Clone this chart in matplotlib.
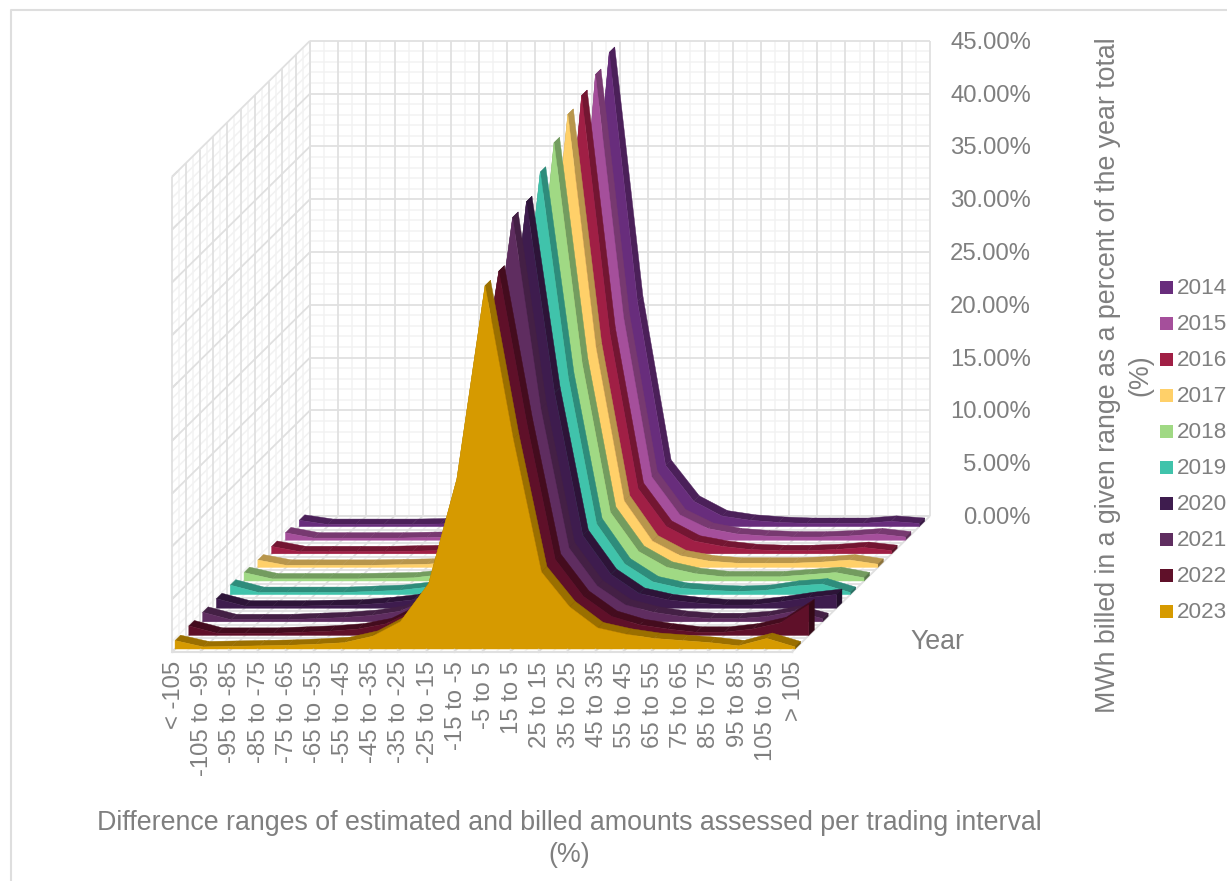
#!/usr/bin/env python

import matplotlib
matplotlib.use("Agg")
import matplotlib.pyplot as plt
from matplotlib.colors import to_rgb
from matplotlib.patches import Polygon, Rectangle

plt.rcParams["font.family"] = ["Liberation Sans", "DejaVu Sans"]

RANGES = [
    "< -105", "-105 to -95", "-95 to -85", "-85 to -75", "-75 to -65",
    "-65 to -55", "-55 to -45", "-45 to -35", "-35 to -25", "-25 to -15",
    "-15 to -5", "-5 to 5", "15 to 5", "25 to 15", "35 to 25", "45 to 35",
    "55 to 45", "65 to 55", "75 to 65", "85 to 75", "95 to 85", "105 to 95",
    "> 105",
]
YEARS = ["2014", "2015", "2016", "2017", "2018", "2019", "2020", "2021", "2022", "2023"]
COLORS = [
    "#682D7C", "#A54F9B", "#A01F45", "#FFD069", "#A0D984",
    "#40C3AB", "#3E1C4E", "#5F2D60", "#5F1029", "#D69A00",
]
PCT_TICKS = [0, 5, 10, 15, 20, 25, 30, 35, 40, 45]

V_2014 = [0.6, 0.2, 0.2, 0.2, 0.2, 0.25, 0.3, 0.5, 1.2, 5.0, 15.3, 44.9, 21.3, 5.8, 2.4, 1.0, 0.6, 0.4, 0.3, 0.3, 0.3, 0.5, 0.3]
V_2015 = [0.7, 0.2, 0.2, 0.2, 0.2, 0.25, 0.3, 0.5, 1.2, 4.0, 10.7, 44.1, 21.1, 6.0, 2.4, 1.1, 0.6, 0.4, 0.3, 0.3, 0.4, 0.6, 0.3]
V_2016 = [0.7, 0.2, 0.2, 0.2, 0.2, 0.25, 0.3, 0.5, 1.3, 4.5, 14.0, 43.4, 20.9, 6.2, 2.6, 1.2, 0.7, 0.4, 0.3, 0.3, 0.4, 0.6, 0.3]
V_2017 = [0.7, 0.2, 0.2, 0.2, 0.2, 0.25, 0.3, 0.5, 1.3, 4.8, 16.8, 42.9, 20.8, 6.3, 2.5, 1.1, 0.6, 0.4, 0.4, 0.4, 0.5, 0.7, 0.3]
V_2018 = [0.8, 0.2, 0.2, 0.2, 0.2, 0.25, 0.3, 0.6, 1.5, 4.8, 14.9, 41.5, 20.6, 6.5, 2.8, 1.3, 0.7, 0.4, 0.4, 0.4, 0.6, 0.8, 0.3]
V_2019 = [0.9, 0.2, 0.2, 0.2, 0.2, 0.3, 0.4, 0.7, 1.7, 5.2, 15.5, 40.0, 20.5, 6.7, 2.9, 1.2, 0.6, 0.4, 0.3, 0.4, 0.8, 1.0, 0.2]
V_2020 = [0.9, 0.2, 0.2, 0.2, 0.25, 0.3, 0.5, 0.8, 2.0, 5.6, 14.8, 38.5, 20.4, 6.9, 3.2, 1.4, 0.8, 0.5, 0.3, 0.3, 0.6, 1.0, 1.3]
V_2021 = [0.9, 0.2, 0.2, 0.2, 0.3, 0.4, 0.6, 1.0, 2.2, 6.0, 18.7, 38.3, 20.2, 7.0, 3.4, 1.6, 0.9, 0.5, 0.3, 0.3, 0.5, 1.0, 0.3]
V_2022 = [0.9, 0.2, 0.2, 0.2, 0.3, 0.4, 0.6, 1.1, 2.4, 6.0, 17.5, 34.5, 20.0, 7.2, 3.7, 1.8, 1.0, 0.6, 0.3, 0.3, 0.6, 1.2, 2.9]
V_2023 = [0.8, 0.2, 0.25, 0.3, 0.35, 0.45, 0.6, 1.2, 2.6, 6.2, 16.1, 34.4, 19.9, 7.3, 4.0, 2.0, 1.4, 1.0, 0.8, 0.6, 0.3, 1.0, 0.2]
SERIES = [V_2014, V_2015, V_2016, V_2017, V_2018, V_2019, V_2020, V_2021, V_2022, V_2023]

# Oblique view of the box, in figure pixels
ORIGIN_X, ORIGIN_Y = 172.0, 652.0
STEP_X = 620.0 / 22
DEPTH_DX, DEPTH_DY = 13.8, -13.6
PX_PER_PCT = 10.56
BAND_FRONT, BAND_BACK = 0.22, 0.62

MAJOR = "#E0E0E0"
MINOR = "#F2F2F2"
TEXT = "#7F7F7F"
TICK_SIZE = 17.2
TITLE_SIZE = 19.25
LEGEND_SIZE = 16.2


def project(i: float, depth: float, pct: float) -> tuple[float, float]:
    """Map category index, depth slot and percent to screen position."""
    return (
        ORIGIN_X + STEP_X * i + DEPTH_DX * depth,
        ORIGIN_Y + DEPTH_DY * depth - PX_PER_PCT * pct,
    )


def shade(color: str, factor: float) -> tuple[float, float, float]:
    return tuple(c * factor for c in to_rgb(color))


def line(ax, a, b, color, width) -> None:
    ax.plot([a[0], b[0]], [a[1], b[1]], color=color, lw=width,
            solid_capstyle="butt", zorder=1)


def draw_box(ax) -> None:
    n = len(RANGES) - 1
    depth_n = len(YEARS)
    pct_max = PCT_TICKS[-1]

    # minor lines first so that major lines sit on top
    for v in range(0, pct_max + 1):
        if v % 5:
            line(ax, project(0, 0, v), project(0, depth_n, v), MINOR, 1.1)
            line(ax, project(0, depth_n, v), project(n, depth_n, v), MINOR, 1.1)
    for i in range(n):
        m = i + 0.5
        line(ax, project(m, depth_n, 0), project(m, depth_n, pct_max), MINOR, 1.1)
        line(ax, project(m, 0, 0), project(m, depth_n, 0), MINOR, 1.1)
    for d in range(depth_n):
        m = d + 0.5
        line(ax, project(0, m, 0), project(0, m, pct_max), MINOR, 1.1)
        line(ax, project(0, m, 0), project(n, m, 0), MINOR, 1.1)

    for v in PCT_TICKS:
        line(ax, project(0, 0, v), project(0, depth_n, v), MAJOR, 1.3)
        line(ax, project(0, depth_n, v), project(n, depth_n, v), MAJOR, 1.3)
        line(ax, project(0, 0, v), project(0, 0.4, v), MAJOR, 1.3)
    for i in range(n + 1):
        line(ax, project(i, depth_n, 0), project(i, depth_n, pct_max), MAJOR, 1.3)
        line(ax, project(i, 0, 0), project(i, depth_n, 0), MAJOR, 1.3)
    for d in range(depth_n + 1):
        line(ax, project(0, d, 0), project(0, d, pct_max), MAJOR, 1.3)
        line(ax, project(0, d, 0), project(n, d, 0), MAJOR, 1.3)


def draw_series(ax, values, color, slot, order) -> None:
    front, back = slot + BAND_FRONT, slot + BAND_BACK
    dark = shade(color, 0.72)
    last = len(values) - 1

    for i in range(last):
        quad = [
            project(i, front, values[i]), project(i + 1, front, values[i + 1]),
            project(i + 1, back, values[i + 1]), project(i, back, values[i]),
        ]
        ax.add_patch(Polygon(quad, facecolor=dark, edgecolor=dark, lw=0.3, zorder=order))

    cap = [
        project(last, front, 0), project(last, front, values[last]),
        project(last, back, values[last]), project(last, back, 0),
    ]
    cap_color = shade(color, 0.55)
    ax.add_patch(Polygon(cap, facecolor=cap_color, edgecolor=cap_color, lw=0.3, zorder=order))

    face = [project(0, front, 0)]
    face += [project(i, front, v) for i, v in enumerate(values)]
    face += [project(last, front, 0)]
    ax.add_patch(Polygon(face, facecolor=color, edgecolor=color, lw=0.3, zorder=order))


def main() -> int:
    figure = plt.figure(figsize=(12.27, 8.81), dpi=100)
    ax = figure.add_axes([0, 0, 1, 1])
    ax.set_xlim(0, 1227)
    ax.set_ylim(881, 0)
    ax.axis("off")

    # outer chart border
    ax.plot([11, 11, 1227], [881, 10, 10], color="#DEDEDE", lw=1.5, zorder=0)

    draw_box(ax)

    # back to front
    slots = len(YEARS)
    for k, (values, color) in enumerate(zip(SERIES, COLORS)):
        draw_series(ax, values, color, slots - 1 - k, 10 + k)

    # front edge of the floor with its ticks
    n = len(RANGES) - 1
    ax.plot(*zip(project(0, 0, 0), project(n, 0, 0)), color=MAJOR, lw=1.5, zorder=30)
    for i in range(n + 1):
        x, y = project(i, 0, 0)
        ax.plot([x, x], [y - 3, y], color=MAJOR, lw=1.0, zorder=30)

    for v in PCT_TICKS:
        _, y = project(0, slots, v)
        ax.text(1031, y + 2, f"{v:.2f}%", ha="right", va="center", color=TEXT, fontsize=TICK_SIZE)

    for i, label in enumerate(RANGES):
        x, y = project(i, 0, 0)
        ax.text(x + 2, y + 9, label, rotation=90, ha="center", va="top", color=TEXT, fontsize=TICK_SIZE)

    ax.text(569, 823, "Difference ranges of estimated and billed amounts assessed per trading interval",
            ha="center", va="center", color=TEXT, fontsize=TITLE_SIZE)
    ax.text(569, 855, "(%)", ha="center", va="center", color=TEXT, fontsize=TITLE_SIZE)
    ax.text(910, 642, "Year", ha="left", va="center", color=TEXT, fontsize=TITLE_SIZE)
    ax.text(1108, 375, "MWh billed in a given range as a percent of the year total",
            rotation=90, ha="center", va="center", color=TEXT, fontsize=TITLE_SIZE)
    ax.text(1140, 375, "(%)", rotation=90, ha="center", va="center", color=TEXT, fontsize=TITLE_SIZE)

    # legend
    for k, (year, color) in enumerate(zip(YEARS, COLORS)):
        y = 287 + 36 * k
        ax.add_patch(Rectangle((1160, y - 6.5), 13, 13, facecolor=color, edgecolor="none"))
        ax.text(1177, y + 1.5, year, ha="left", va="center", color=TEXT, fontsize=LEGEND_SIZE)

    figure.savefig("out.png", dpi=100)
    return 0


if __name__ == "__main__":
    main()
